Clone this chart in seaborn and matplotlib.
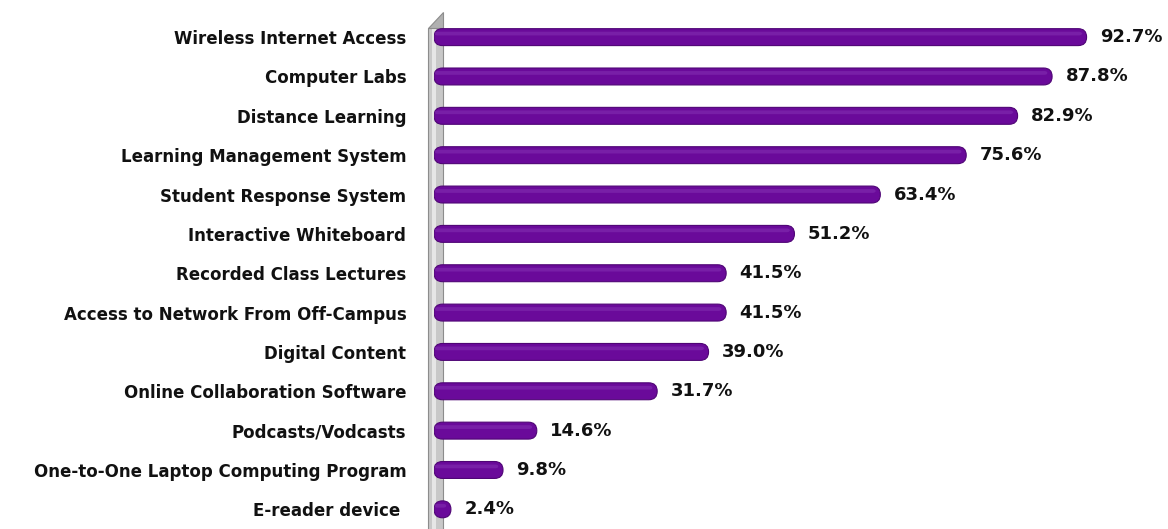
import numpy as np
import pandas as pd
import matplotlib.pyplot as plt
import seaborn as sns
from matplotlib.patches import FancyBboxPatch, Rectangle, Polygon

categories = ['Wireless Internet Access', 'Computer Labs', 'Distance Learning',
              'Learning Management System', 'Student Response System',
              'Interactive Whiteboard', 'Recorded Class Lectures',
              'Access to Network From Off-Campus', 'Digital Content',
              'Online Collaboration Software', 'Podcasts/Vodcasts',
              'One-to-One Laptop Computing Program', 'E-reader device ']
values = [92.7, 87.8, 82.9, 75.6, 63.4, 51.2, 41.5, 41.5, 39.0, 31.7, 14.6, 9.8, 2.4]

d = pd.DataFrame({'Item': categories, 'Pct': values})

sns.set_style("white")
plt.rcParams['font.family'] = ['DejaVu Sans']

fig = plt.figure(figsize=(11.68, 5.29), dpi=100)
ax = fig.add_axes([0.3716, 0.0, 0.6027, 0.967])

sns.barplot(data=d, y='Item', x='Pct', color='#6a0a9a', width=0.43,
            saturation=1, ax=ax, zorder=3)

# swap plain rectangles for rounded bars
aspect = (1 / 39.3) / (1 / 7.04)
for p in list(ax.patches):
    x0, y0 = p.get_x(), p.get_y()
    w, h = p.get_width(), p.get_height()
    r = min(h / 2 / aspect, w / 2)
    fb = FancyBboxPatch((x0, y0), w, h,
                        boxstyle='round,pad=0,rounding_size=%f' % r,
                        mutation_aspect=aspect, fc='#6a0a9a', ec='#4f0575',
                        lw=0.8, zorder=3)
    ax.add_patch(fb)
    # soft highlight on upper part
    hl = FancyBboxPatch((x0, y0 + h * 0.18), max(w - r * 0.5, 0.01), h * 0.22,
                        boxstyle='round,pad=0,rounding_size=%f' % (r * 0.4),
                        mutation_aspect=aspect, fc='#8a3ab8', ec='none',
                        alpha=0.45, zorder=4)
    ax.add_patch(hl)
    p.remove()

for i, v in enumerate(values):
    ax.text(v + 1.9, i, '%.1f%%' % v, va='center', ha='left',
            fontsize=13, fontweight='bold', color='#111111')

ax.set_xlim(0, 100)
ax.set_ylim(12.5, -0.5)
ax.set_xlabel('')
ax.set_ylabel('')
ax.set_xticks([])
ax.tick_params(axis='y', length=0, pad=20)
for lab in ax.get_yticklabels():
    lab.set_fontweight('bold')
    lab.set_fontsize(12)
    lab.set_color('#111111')
for s in ax.spines.values():
    s.set_visible(False)

# gray 3D wall at the left of the bars
wall = Rectangle((-0.009, -0.02), 0.022, 1.0, transform=ax.transAxes,
                 fc='#c8c8c8', ec='#8c8c8c', lw=0.8, clip_on=False, zorder=1)
ax.add_patch(wall)
inner = Rectangle((-0.003, -0.02), 0.006, 1.0, transform=ax.transAxes,
                  fc='#e6e6e6', ec='none', clip_on=False, zorder=1)
ax.add_patch(inner)
cap = Polygon([(-0.009, 0.98), (0.013, 0.98), (0.013, 1.01)],
              closed=True, transform=ax.transAxes, fc='#b0b0b0', ec='#8c8c8c',
              lw=0.8, clip_on=False, zorder=1)
ax.add_patch(cap)

fig.savefig('out.png', dpi=100)
